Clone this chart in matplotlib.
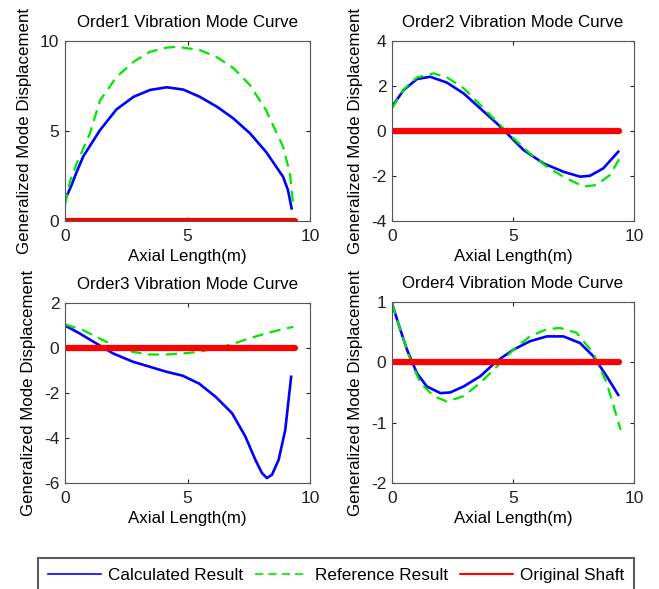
import numpy as np
import matplotlib
matplotlib.use("Agg")
import matplotlib.pyplot as plt

plt.rcParams['font.family'] = ['Liberation Sans', 'DejaVu Sans']
plt.rcParams['axes.unicode_minus'] = False

# order 1
x1_calc = [0, 0.27, 0.48, 0.75, 1.43, 2.1, 2.8, 3.47, 4.15, 4.83, 5.5, 6.2, 6.87, 7.55, 8.2, 8.9, 9.1, 9.25]
y1_calc = [1.17, 2.0, 2.74, 3.6, 5.05, 6.2, 6.9, 7.28, 7.43, 7.3, 6.9, 6.35, 5.7, 4.87, 3.85, 2.46, 1.72, 0.7]
x1_ref = [0, 0.2, 0.48, 1.02, 1.43, 2.1, 2.8, 3.47, 4.15, 4.55, 5.5, 6.2, 6.87, 7.55, 8.2, 8.9, 9.18, 9.3]
y1_ref = [0.9, 2.19, 3.2, 4.87, 6.7, 8.0, 8.85, 9.4, 9.63, 9.68, 9.5, 9.1, 8.5, 7.55, 6.17, 4.13, 2.65, 1.07]

# order 2
x2_calc = [0, 0.48, 1.03, 1.58, 2.27, 2.96, 3.65, 4.33, 4.75, 5.43, 6.26, 7.08, 7.77, 8.18, 8.73, 9.35]
y2_calc = [1.08, 1.82, 2.31, 2.41, 2.15, 1.67, 1.0, 0.34, -0.1, -0.84, -1.44, -1.81, -2.03, -1.99, -1.66, -0.92]
x2_ref = [0, 0.48, 1.03, 1.72, 2.27, 2.96, 3.65, 4.33, 4.88, 5.7, 6.4, 7.08, 7.9, 8.45, 9.0, 9.45]
y2_ref = [1.0, 1.85, 2.38, 2.56, 2.38, 1.9, 1.16, 0.41, -0.18, -1.0, -1.59, -2.03, -2.47, -2.4, -1.96, -1.14]

# order 3
x3_calc = [0, 0.61, 1.28, 1.96, 2.77, 3.45, 4.12, 4.8, 5.47, 6.15, 6.82, 7.36, 7.77, 8.04, 8.24, 8.45, 8.72, 8.99, 9.23]
y3_calc = [1.0, 0.64, 0.2, -0.24, -0.61, -0.83, -1.05, -1.23, -1.58, -2.17, -2.9, -3.93, -4.97, -5.56, -5.78, -5.63, -4.97, -3.64, -1.28]
x3_ref = [0, 0.74, 1.42, 2.09, 2.77, 3.45, 4.12, 4.8, 5.47, 6.15, 6.82, 7.5, 8.18, 8.85, 9.32]
y3_ref = [1.05, 0.79, 0.42, 0.05, -0.17, -0.29, -0.29, -0.24, -0.17, -0.02, 0.17, 0.42, 0.64, 0.83, 0.94]

# order 4
x4_calc = [0, 0.28, 0.62, 1.03, 1.44, 2.0, 2.4, 2.96, 3.65, 4.33, 5.02, 5.7, 6.4, 7.08, 7.77, 8.32, 8.87, 9.35]
y4_calc = [0.98, 0.62, 0.21, -0.18, -0.4, -0.51, -0.5, -0.4, -0.23, 0.02, 0.21, 0.35, 0.43, 0.43, 0.32, 0.1, -0.23, -0.54]
x4_ref = [0, 0.28, 0.76, 1.17, 1.72, 2.27, 2.96, 3.65, 4.33, 5.02, 5.7, 6.4, 6.95, 7.63, 8.32, 8.87, 9.45]
y4_ref = [0.98, 0.62, 0.04, -0.34, -0.56, -0.65, -0.56, -0.34, -0.07, 0.21, 0.43, 0.55, 0.57, 0.49, 0.15, -0.34, -1.12]

shaft_x = [0, 9.38]
shaft_y = [0, 0]

titles = ['Order1 Vibration Mode Curve', 'Order2 Vibration Mode Curve',
          'Order3 Vibration Mode Curve', 'Order4 Vibration Mode Curve']
ylims = [(0, 10), (-4, 4), (-6, 2), (-2, 1)]
yticks = [[0, 5, 10], [-4, -2, 0, 2, 4], [-6, -4, -2, 0, 2], [-2, -1, 0, 1]]
calc = [(x1_calc, y1_calc), (x2_calc, y2_calc), (x3_calc, y3_calc), (x4_calc, y4_calc)]
ref = [(x1_ref, y1_ref), (x2_ref, y2_ref), (x3_ref, y3_ref), (x4_ref, y4_ref)]

W, H = 659, 589
boxes = [(65, 41, 310, 221), (392, 41, 634, 221), (65, 303, 310, 483), (392, 302, 634, 483)]

fig = plt.figure(figsize=(6.59, 5.89), dpi=100)
for i in range(4):
    l, t, r, b = boxes[i]
    ax = fig.add_axes([l / W, 1 - b / H, (r - l) / W, (b - t) / H])
    h1, = ax.plot(calc[i][0], calc[i][1], color='#0000ff', lw=1.9, label='Calculated Result')
    h2, = ax.plot(ref[i][0], ref[i][1], color='#00e600', lw=1.6, ls=(0, (5, 3)), label='Reference Result')
    h3, = ax.plot(shaft_x, shaft_y, color='#ff0000', lw=4.5, solid_capstyle='round', label='Original Shaft')
    ax.set_xlim(0, 10)
    ax.set_ylim(*ylims[i])
    ax.set_xticks([0, 5, 10])
    ax.set_yticks(yticks[i])
    ax.tick_params(direction='in', top=True, right=True, labelsize=12.5, length=3, colors='#222222')
    ax.tick_params(axis='x', pad=6)
    ax.tick_params(axis='y', pad=4)
    for s in ax.spines.values():
        s.set_color('#555555')
        s.set_linewidth(0.8)
    ax.set_title(titles[i], fontsize=12.2, pad=10)
    ax.set_xlabel('Axial Length(m)', fontsize=12.2, labelpad=3)
    ax.set_ylabel('Generalized Mode Displacement', fontsize=12.2, labelpad=6)

leg = fig.legend([h1, h2, h3], ['Calculated Result', 'Reference Result', 'Original Shaft'],
                 loc='upper center', bbox_to_anchor=(0.51, 1 - 558 / H), ncol=3,
                 fontsize=12.3, frameon=True, fancybox=False, edgecolor='#333333',
                 handlelength=3.1, columnspacing=0.7, handletextpad=0.4, borderpad=0.6,
                 borderaxespad=0)
leg.get_frame().set_linewidth(1.5)
leg.legend_handles[2].set_linewidth(1.5)
leg.legend_handles[0].set_linewidth(1.2)
leg.legend_handles[1].set_linewidth(1.2)

fig.savefig('out.png', dpi=100)
